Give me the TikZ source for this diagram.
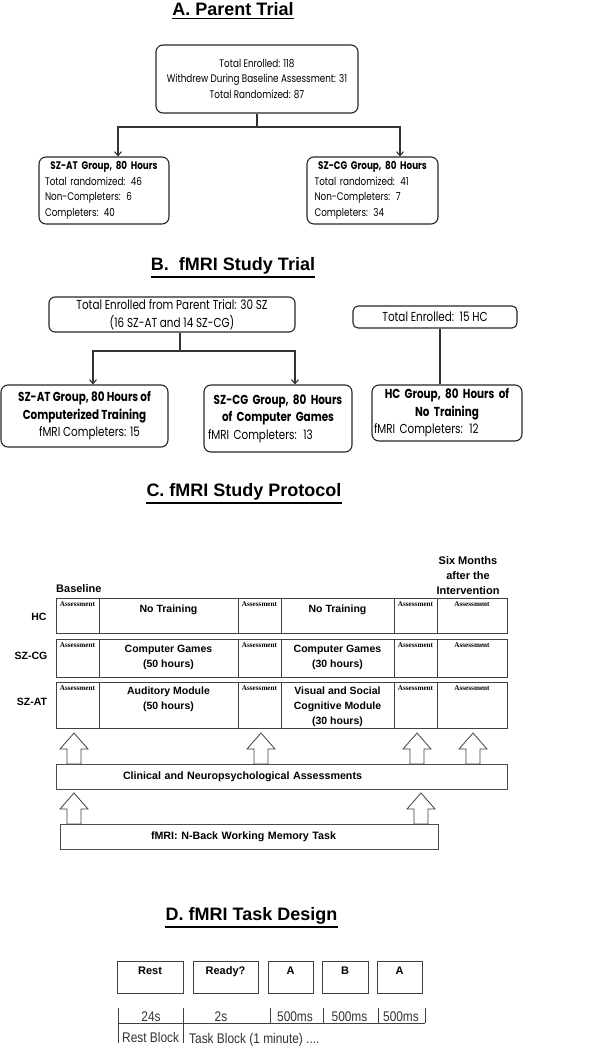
\documentclass[tikz,border=0pt]{standalone}
\usepackage{fontspec}
\setmainfont{Liberation Sans}
\newfontfamily\gothic[FakeStretch=0.8]{Poppins}
\newfontfamily\narrowsf[FakeStretch=0.85]{Liberation Sans}
\newfontfamily\tnr{Liberation Serif}
\usetikzlibrary{arrows.meta,calc}
\newcommand\hollowarrow[3]{\draw[blockarr] (#1,#2) -- (#1+14,#2+16) -- (#1+7,#2+16) -- (#1+7,#3) -- (#1-7,#3) -- (#1-7,#2+16) -- (#1-14,#2+16) -- cycle;}
\newcommand\ctr[1]{\hspace*{\fill}#1\hspace*{\fill}\null}
\begin{document}
\begin{tikzpicture}[x=1pt,y=-1pt,
  title/.style={font=\bfseries\fontsize{18}{20}\selectfont, inner sep=0pt, anchor=base},
  uline/.style={line width=1.5pt},
  rbox/.style={draw=black!85, line width=1.1pt, rounded corners=7pt, inner sep=0pt, align=center},
  gA/.style={font=\gothic\fontsize{11}{15.5}\selectfont},
  gB/.style={font=\gothic\fontsize{13}{17.5}\selectfont},
  conn/.style={line width=1.1pt, draw=black!80},
  arr/.style={conn, -{Straight Barb[length=4pt,width=7pt]}},
  grid/.style={draw=black!75, line width=0.9pt},
  assess/.style={font=\tnr\bfseries\fontsize{7.2}{8}\selectfont, inner sep=0pt, anchor=base},
  ptext/.style={font=\bfseries\fontsize{10.5}{15}\selectfont, inner sep=0pt, align=center},
  blockarr/.style={draw=black!75, line width=0.8pt, fill=white},
  longbox/.style={draw=black!70, line width=0.9pt, inner sep=0pt, align=left, font=\bfseries\fontsize{10.7}{12}\selectfont},
  taskbox/.style={draw=black!75, line width=1pt, inner xsep=0pt, inner ysep=2pt, text height=11pt, text depth=17pt, font=\bfseries\fontsize{11}{12}\selectfont},
  tl/.style={draw=black!75, line width=0.8pt},
  tltext/.style={font=\narrowsf\fontsize{14}{15}\selectfont, text=black!80, inner sep=0pt, anchor=base}
]
\useasboundingbox (0,0) rectangle (606,1050);

% ---------- A ----------
\node[title] (tA) at (233,15) {A. Parent Trial};
\draw[uline] ([yshift=-3pt]tA.south west) -- ([yshift=-3pt]tA.south east);

\node[rbox, gA, minimum width=202pt, minimum height=68pt] (pA) at (257,79)
  {Total Enrolled: 118\\Withdrew During Baseline Assessment: 31\\Total Randomized: 87};
\node[rbox, gA, minimum width=130pt, minimum height=67pt, text width=118pt, align=left] (atA) at (104,190.5)
  {\ctr{\textbf{SZ-AT Group, 80 Hours}}\\Total randomized: 46\\Non-Completers: 6\\Completers: 40};
\node[rbox, gA, minimum width=131pt, minimum height=67pt, text width=116pt, align=left] (cgA) at (372.5,190.5)
  {\ctr{\textbf{SZ-CG Group, 80 Hours}}\\Total randomized: 41\\Non-Completers: 7\\Completers: 34};
\coordinate (jA) at (257,127);
\draw[conn] (pA.south) -- (jA);
\draw[arr] (jA) -| ([xshift=14pt]atA.north);
\draw[arr] (jA) -| ([xshift=27.5pt]cgA.north);

% ---------- B ----------
\node[title] (tB) at (233,270) {B.\ \ fMRI Study Trial};
\draw[uline] ([yshift=-3pt]tB.south west) -- ([yshift=-3pt]tB.south east);

\node[rbox, gB, rounded corners=6pt, minimum width=246pt, minimum height=35pt] (sB) at (172,314.5)
  {Total Enrolled from Parent Trial: 30 SZ\\(16 SZ-AT and 14 SZ-CG)};
\node[rbox, gB, rounded corners=5pt, minimum width=164pt, minimum height=22pt] (hB) at (435,317)
  {Total Enrolled:\ \ 15 HC};
\node[rbox, gB, minimum width=167pt, minimum height=62pt] (atB) at (84.5,416)
  {\textbf{SZ-AT Group, 80 Hours of}\\\textbf{Computerized Training}\\\hspace*{10pt}fMRI Completers: 15};
\node[rbox, gB, minimum width=148pt, minimum height=67pt, text width=140pt, align=left] (cgB) at (278,418.5)
  {\ctr{\textbf{SZ-CG Group, 80 Hours}}\\\ctr{\textbf{of Computer Games}}\\fMRI Completers: 13};
\node[rbox, gB, minimum width=150pt, minimum height=56pt, text width=146pt, align=left] (hcB) at (447,413)
  {\ctr{\textbf{HC Group, 80 Hours of}}\\\ctr{\textbf{No Training}}\\fMRI Completers: 12};
\coordinate (jB) at (180,351);
\draw[conn] (sB.south -| jB) -- (jB);
\draw[arr] (jB) -| ([xshift=8.5pt]atB.north);
\draw[arr] (jB) -| ([xshift=17pt]cgB.north);
\draw[conn] ([xshift=5pt]hB.south) -- ([xshift=5pt]hB.south |- hcB.north);

% ---------- C ----------
\node[title] (tC) at (244,496) {C. fMRI Study Protocol};
\draw[uline] ([yshift=-3pt]tC.south west) -- ([yshift=-3pt]tC.south east);

\node[ptext, font=\bfseries\fontsize{11}{15}\selectfont, anchor=base west] (base) at (56,592) {Baseline};
\node[ptext, font=\bfseries\fontsize{11}{15}\selectfont, anchor=base] (six) at (468,594) {Six Months\\after the\\Intervention};

% rows
\draw[grid] (56,598) rectangle (507,633);
\draw[grid] (56,639) rectangle (507,677);
\draw[grid] (56,682) rectangle (507,728);
\foreach \c in {99,238,281,394,437}{
  \draw[grid] (\c,598) -- (\c,633);
  \draw[grid] (\c,639) -- (\c,677);
  \draw[grid] (\c,682) -- (\c,728);
}
\node[ptext, anchor=center] (lHC) at (39,617) {HC};
\node[ptext, anchor=center] (lCG) at (31,656) {SZ-CG};
\node[ptext, anchor=center] (lAT) at (32,702) {SZ-AT};
\foreach \t [count=\r] in {598,639,682}{
  \foreach \cx in {77.5,259.5,415.5,472}{
    \node[assess] (as\r-\cx) at (\cx,\t+8) {Assessment};
  }
}
\node[ptext, anchor=base] (nt1) at (168.5,612) {No Training};
\node[ptext, anchor=base] (nt2) at (337.5,612) {No Training};
\node[ptext, anchor=base] (cg1) at (168.5,667) {Computer Games\\(50 hours)};
\node[ptext, anchor=base] (cg2) at (337.5,667) {Computer Games\\(30 hours)};
\node[ptext, anchor=base] (au1) at (168.5,709) {Auditory Module\\(50 hours)};
\node[ptext, anchor=base] (vs2) at (337.5,724) {Visual and Social\\Cognitive Module\\(30 hours)};

\hollowarrow{74}{733}{764}
\hollowarrow{261}{733}{764}
\hollowarrow{417}{733}{764}
\hollowarrow{473}{733}{764}
\node[longbox, minimum width=451pt, minimum height=25pt, text width=451pt] (clin) at (281.5,776.5)
  {\hspace*{67pt}Clinical and Neuropsychological Assessments};
\hollowarrow{74}{793}{824}
\hollowarrow{421}{793}{824}
\node[longbox, minimum width=378pt, minimum height=25pt, text width=378pt] (fmri) at (249,836.5)
  {\hspace*{91pt}fMRI: N-Back Working Memory Task};

% ---------- D ----------
\node[title] (tD) at (251.5,920) {D. fMRI Task Design};
\draw[uline] ([yshift=-3pt]tD.south west) -- ([yshift=-3pt]tD.south east);

\node[taskbox, minimum width=66pt, anchor=north] (rest) at (150,961) {Rest};
\node[taskbox, minimum width=65pt, anchor=north] (ready) at (225.5,961) {Ready?};
\node[taskbox, minimum width=45pt, anchor=north] (a1) at (290.5,961) {A};
\node[taskbox, minimum width=46pt, anchor=north] (b1) at (345,961) {B};
\node[taskbox, minimum width=45pt, anchor=north] (a2) at (399.5,961) {A};

\draw[tl] (118,1023) -- (425,1023);
\draw[tl] (118,1008) -- (118,1043);
\draw[tl] (183,1008) -- (183,1043);
\foreach \x in {270,323,378,425}{ \draw[tl] (\x,1008) -- (\x,1023); }
\node[tltext] (d24) at (151,1021) {24s};
\node[tltext] (d2) at (221,1021) {2s};
\node[tltext] (d500a) at (295,1021) {500ms};
\node[tltext] (d500b) at (349.5,1021) {500ms};
\node[tltext] (d500c) at (401,1021) {500ms};
\node[tltext, anchor=base west] (rb) at (122,1042) {Rest Block};
\node[tltext, anchor=base west] (tb) at (189,1043) {Task Block (1 minute) ....};
\end{tikzpicture}
\end{document}
